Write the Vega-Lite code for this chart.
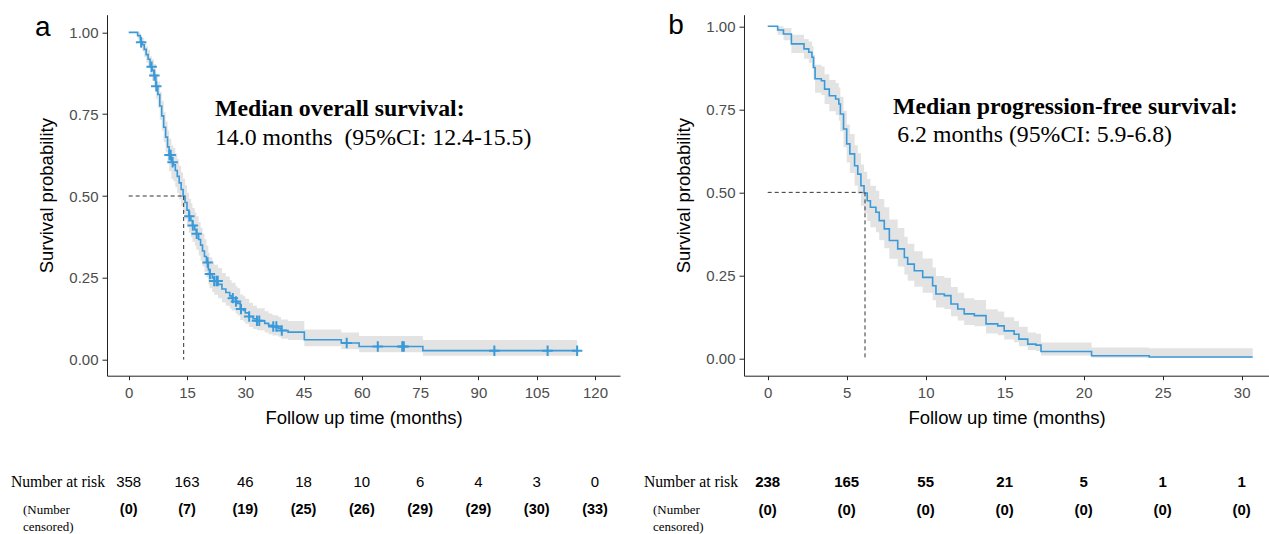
{
  "$schema": "https://vega.github.io/schema/vega-lite/v6.json",
  "padding": {"left": 10, "top": 10.7, "right": 0, "bottom": 0},
  "background": "white",
  "config": {
    "view": {"stroke": null},
    "font": "Liberation Sans",
    "axis": {"grid": false, "domainColor": "#222", "tickColor": "#222", "labelColor": "#4D4D4D", "titleColor": "#000", "labelFont": "Liberation Sans", "titleFont": "Liberation Sans", "labelFontSize": 15, "titleFontSize": 18.5, "titleFontWeight": "normal", "labelFlush": false, "labelOverlap": false},
    "axisX": {"tickSize": 4, "labelPadding": 6, "titlePadding": 8},
    "axisY": {"tickSize": 5, "labelPadding": 4, "titlePadding": 12}
  },
  "datasets": {
    "os": [
      {"t": 0, "s": 1, "lo": 1, "hi": 1},
      {"t": 2.3, "s": 0.99, "lo": 0.978, "hi": 1.0},
      {"t": 3.0, "s": 0.97, "lo": 0.952, "hi": 0.988},
      {"t": 3.5, "s": 0.962, "lo": 0.942, "hi": 0.982},
      {"t": 4.0, "s": 0.948, "lo": 0.925, "hi": 0.97},
      {"t": 4.5, "s": 0.932, "lo": 0.907, "hi": 0.957},
      {"t": 5.0, "s": 0.918, "lo": 0.89, "hi": 0.946},
      {"t": 5.5, "s": 0.895, "lo": 0.864, "hi": 0.926},
      {"t": 6.0, "s": 0.885, "lo": 0.852, "hi": 0.918},
      {"t": 6.5, "s": 0.868, "lo": 0.833, "hi": 0.903},
      {"t": 7.0, "s": 0.835, "lo": 0.797, "hi": 0.873},
      {"t": 7.5, "s": 0.81, "lo": 0.77, "hi": 0.85},
      {"t": 8.0, "s": 0.775, "lo": 0.733, "hi": 0.818},
      {"t": 8.5, "s": 0.745, "lo": 0.7, "hi": 0.79},
      {"t": 9.0, "s": 0.71, "lo": 0.664, "hi": 0.757},
      {"t": 9.5, "s": 0.68, "lo": 0.633, "hi": 0.728},
      {"t": 10.0, "s": 0.65, "lo": 0.602, "hi": 0.7},
      {"t": 10.4, "s": 0.625, "lo": 0.576, "hi": 0.675},
      {"t": 11.0, "s": 0.603, "lo": 0.553, "hi": 0.654},
      {"t": 11.5, "s": 0.595, "lo": 0.545, "hi": 0.647},
      {"t": 12.0, "s": 0.578, "lo": 0.527, "hi": 0.63},
      {"t": 12.5, "s": 0.56, "lo": 0.509, "hi": 0.612},
      {"t": 13.0, "s": 0.54, "lo": 0.489, "hi": 0.592},
      {"t": 13.5, "s": 0.52, "lo": 0.469, "hi": 0.572},
      {"t": 14.0, "s": 0.5, "lo": 0.449, "hi": 0.553},
      {"t": 14.5, "s": 0.48, "lo": 0.429, "hi": 0.533},
      {"t": 15.0, "s": 0.457, "lo": 0.406, "hi": 0.51},
      {"t": 15.5, "s": 0.438, "lo": 0.388, "hi": 0.491},
      {"t": 16.0, "s": 0.425, "lo": 0.375, "hi": 0.478},
      {"t": 16.4, "s": 0.41, "lo": 0.36, "hi": 0.463},
      {"t": 17.0, "s": 0.397, "lo": 0.348, "hi": 0.45},
      {"t": 17.4, "s": 0.385, "lo": 0.336, "hi": 0.438},
      {"t": 18.0, "s": 0.367, "lo": 0.318, "hi": 0.42},
      {"t": 18.5, "s": 0.35, "lo": 0.302, "hi": 0.403},
      {"t": 19.0, "s": 0.332, "lo": 0.285, "hi": 0.385},
      {"t": 19.5, "s": 0.315, "lo": 0.268, "hi": 0.368},
      {"t": 20.0, "s": 0.297, "lo": 0.251, "hi": 0.349},
      {"t": 20.5, "s": 0.275, "lo": 0.23, "hi": 0.327},
      {"t": 20.8, "s": 0.262, "lo": 0.218, "hi": 0.313},
      {"t": 21.5, "s": 0.25, "lo": 0.207, "hi": 0.3},
      {"t": 22.0, "s": 0.24, "lo": 0.198, "hi": 0.29},
      {"t": 23.0, "s": 0.23, "lo": 0.188, "hi": 0.28},
      {"t": 24.0, "s": 0.216, "lo": 0.175, "hi": 0.265},
      {"t": 25.0, "s": 0.205, "lo": 0.165, "hi": 0.254},
      {"t": 26.0, "s": 0.195, "lo": 0.156, "hi": 0.243},
      {"t": 26.5, "s": 0.188, "lo": 0.15, "hi": 0.235},
      {"t": 27.5, "s": 0.178, "lo": 0.141, "hi": 0.224},
      {"t": 28.0, "s": 0.172, "lo": 0.135, "hi": 0.218},
      {"t": 28.7, "s": 0.155, "lo": 0.121, "hi": 0.199},
      {"t": 29.5, "s": 0.15, "lo": 0.116, "hi": 0.194},
      {"t": 30.0, "s": 0.143, "lo": 0.11, "hi": 0.186},
      {"t": 31.0, "s": 0.132, "lo": 0.1, "hi": 0.174},
      {"t": 32.0, "s": 0.125, "lo": 0.094, "hi": 0.165},
      {"t": 33.0, "s": 0.119, "lo": 0.09, "hi": 0.157},
      {"t": 35.0, "s": 0.111, "lo": 0.083, "hi": 0.148},
      {"t": 36.0, "s": 0.105, "lo": 0.078, "hi": 0.141},
      {"t": 37.0, "s": 0.101, "lo": 0.074, "hi": 0.136},
      {"t": 38.5, "s": 0.096, "lo": 0.07, "hi": 0.13},
      {"t": 39.2, "s": 0.089, "lo": 0.064, "hi": 0.123},
      {"t": 41.0, "s": 0.084, "lo": 0.06, "hi": 0.118},
      {"t": 45.2, "s": 0.061, "lo": 0.041, "hi": 0.092},
      {"t": 54.7, "s": 0.051, "lo": 0.032, "hi": 0.083},
      {"t": 59.3, "s": 0.04, "lo": 0.023, "hi": 0.072},
      {"t": 75.7, "s": 0.0275, "lo": 0.012, "hi": 0.06},
      {"t": 115.4, "s": 0.0275, "lo": 0.012, "hi": 0.06}
    ],
    "osCensor": [
      {"t": 3.2, "s": 0.97}, {"t": 5.9, "s": 0.895}, {"t": 6.6, "s": 0.868}, {"t": 7.1, "s": 0.835},
      {"t": 10.5, "s": 0.625}, {"t": 10.8, "s": 0.625}, {"t": 11.3, "s": 0.603}, {"t": 15.6, "s": 0.438},
      {"t": 16.5, "s": 0.41}, {"t": 17.5, "s": 0.385}, {"t": 20.3, "s": 0.297}, {"t": 20.9, "s": 0.262},
      {"t": 22.0, "s": 0.24}, {"t": 22.6, "s": 0.24}, {"t": 22.9, "s": 0.24}, {"t": 26.8, "s": 0.188},
      {"t": 27.6, "s": 0.178}, {"t": 28.9, "s": 0.155}, {"t": 31.0, "s": 0.132}, {"t": 33.0, "s": 0.119},
      {"t": 33.6, "s": 0.119}, {"t": 37.2, "s": 0.101}, {"t": 38.0, "s": 0.101}, {"t": 39.4, "s": 0.089},
      {"t": 56.1, "s": 0.051}, {"t": 64.1, "s": 0.04}, {"t": 70.4, "s": 0.04}, {"t": 70.8, "s": 0.04},
      {"t": 94.1, "s": 0.0275}, {"t": 107.8, "s": 0.0275}, {"t": 115.4, "s": 0.0275}
    ],
    "pfs": [
      {"t": 0, "s": 1, "lo": 1, "hi": 1},
      {"t": 0.63, "s": 0.989, "lo": 0.975, "hi": 1},
      {"t": 1.0, "s": 0.977, "lo": 0.958, "hi": 0.995},
      {"t": 1.5, "s": 0.947, "lo": 0.92, "hi": 0.975},
      {"t": 2.3, "s": 0.932, "lo": 0.902, "hi": 0.962},
      {"t": 2.6, "s": 0.922, "lo": 0.89, "hi": 0.954},
      {"t": 2.8, "s": 0.907, "lo": 0.873, "hi": 0.941},
      {"t": 2.9, "s": 0.876, "lo": 0.838, "hi": 0.914},
      {"t": 3.0, "s": 0.842, "lo": 0.8, "hi": 0.884},
      {"t": 3.4, "s": 0.836, "lo": 0.793, "hi": 0.879},
      {"t": 3.6, "s": 0.811, "lo": 0.766, "hi": 0.856},
      {"t": 3.9, "s": 0.791, "lo": 0.744, "hi": 0.838},
      {"t": 4.3, "s": 0.781, "lo": 0.733, "hi": 0.829},
      {"t": 4.5, "s": 0.766, "lo": 0.716, "hi": 0.816},
      {"t": 4.6, "s": 0.736, "lo": 0.684, "hi": 0.788},
      {"t": 4.8, "s": 0.691, "lo": 0.636, "hi": 0.746},
      {"t": 5.0, "s": 0.646, "lo": 0.59, "hi": 0.704},
      {"t": 5.2, "s": 0.616, "lo": 0.558, "hi": 0.676},
      {"t": 5.5, "s": 0.58, "lo": 0.52, "hi": 0.642},
      {"t": 5.7, "s": 0.555, "lo": 0.495, "hi": 0.618},
      {"t": 5.9, "s": 0.52, "lo": 0.46, "hi": 0.584},
      {"t": 6.1, "s": 0.498, "lo": 0.437, "hi": 0.562},
      {"t": 6.3, "s": 0.475, "lo": 0.414, "hi": 0.54},
      {"t": 6.5, "s": 0.455, "lo": 0.395, "hi": 0.52},
      {"t": 6.85, "s": 0.44, "lo": 0.38, "hi": 0.505},
      {"t": 7.06, "s": 0.415, "lo": 0.356, "hi": 0.48},
      {"t": 7.38, "s": 0.39, "lo": 0.332, "hi": 0.455},
      {"t": 7.7, "s": 0.355, "lo": 0.3, "hi": 0.418},
      {"t": 8.23, "s": 0.33, "lo": 0.277, "hi": 0.393},
      {"t": 8.65, "s": 0.304, "lo": 0.253, "hi": 0.366},
      {"t": 8.86, "s": 0.284, "lo": 0.234, "hi": 0.345},
      {"t": 9.28, "s": 0.264, "lo": 0.216, "hi": 0.323},
      {"t": 9.81, "s": 0.244, "lo": 0.198, "hi": 0.301},
      {"t": 10.44, "s": 0.219, "lo": 0.175, "hi": 0.274},
      {"t": 10.65, "s": 0.194, "lo": 0.153, "hi": 0.248},
      {"t": 11.18, "s": 0.189, "lo": 0.149, "hi": 0.243},
      {"t": 11.6, "s": 0.164, "lo": 0.127, "hi": 0.215},
      {"t": 12.03, "s": 0.149, "lo": 0.114, "hi": 0.198},
      {"t": 12.44, "s": 0.134, "lo": 0.101, "hi": 0.181},
      {"t": 13.08, "s": 0.129, "lo": 0.097, "hi": 0.176},
      {"t": 13.82, "s": 0.104, "lo": 0.075, "hi": 0.148},
      {"t": 14.56, "s": 0.098, "lo": 0.07, "hi": 0.141},
      {"t": 14.97, "s": 0.083, "lo": 0.057, "hi": 0.124},
      {"t": 15.6, "s": 0.073, "lo": 0.049, "hi": 0.113},
      {"t": 15.9, "s": 0.058, "lo": 0.037, "hi": 0.095},
      {"t": 16.46, "s": 0.043, "lo": 0.025, "hi": 0.078},
      {"t": 16.98, "s": 0.04, "lo": 0.022, "hi": 0.074},
      {"t": 17.3, "s": 0.021, "lo": 0.009, "hi": 0.048},
      {"t": 20.5, "s": 0.008, "lo": 0.002, "hi": 0.033},
      {"t": 24.15, "s": 0.0045, "lo": 0.001, "hi": 0.031},
      {"t": 30.7, "s": 0.0045, "lo": 0.001, "hi": 0.031}
    ],
    "riskA": [
      {"t": 0, "row": "risk", "value": "358"}, {"t": 15, "row": "risk", "value": "163"}, {"t": 30, "row": "risk", "value": "46"},
      {"t": 45, "row": "risk", "value": "18"}, {"t": 60, "row": "risk", "value": "10"}, {"t": 75, "row": "risk", "value": "6"},
      {"t": 90, "row": "risk", "value": "4"}, {"t": 105, "row": "risk", "value": "3"}, {"t": 120, "row": "risk", "value": "0"},
      {"t": 0, "row": "cens", "value": "(0)"}, {"t": 15, "row": "cens", "value": "(7)"}, {"t": 30, "row": "cens", "value": "(19)"},
      {"t": 45, "row": "cens", "value": "(25)"}, {"t": 60, "row": "cens", "value": "(26)"}, {"t": 75, "row": "cens", "value": "(29)"},
      {"t": 90, "row": "cens", "value": "(29)"}, {"t": 105, "row": "cens", "value": "(30)"}, {"t": 120, "row": "cens", "value": "(33)"}
    ],
    "riskB": [
      {"t": 0, "row": "risk", "value": "238"}, {"t": 5, "row": "risk", "value": "165"}, {"t": 10, "row": "risk", "value": "55"},
      {"t": 15, "row": "risk", "value": "21"}, {"t": 20, "row": "risk", "value": "5"}, {"t": 25, "row": "risk", "value": "1"},
      {"t": 30, "row": "risk", "value": "1"},
      {"t": 0, "row": "cens", "value": "(0)"}, {"t": 5, "row": "cens", "value": "(0)"}, {"t": 10, "row": "cens", "value": "(0)"},
      {"t": 15, "row": "cens", "value": "(0)"}, {"t": 20, "row": "cens", "value": "(0)"}, {"t": 25, "row": "cens", "value": "(0)"},
      {"t": 30, "row": "cens", "value": "(0)"}
    ],
    "medA": [{"t0": 0, "median": 14.15, "p": 0.5, "p0": 0}],
    "medB": [{"t0": 0, "median": 6.16, "p": 0.5, "p0": 0}],
    "rowLabels": [
      {"row": "risk", "label": "Number at risk"},
      {"row": "cens", "label": "(Number\ncensored)"}
    ]
  },
  "columns": 2,
  "spacing": {"row": 92, "column": 124},
  "bounds": "flush",
  "resolve": {"scale": {"x": "independent", "y": "independent"}},
  "concat": [
    {
      "width": 513,
      "height": 361,
      "layer": [
        {
          "data": {"name": "os"},
          "mark": {"type": "area", "interpolate": "step-after", "color": "#E3E3E3"},
          "encoding": {
            "x": {"field": "t", "type": "quantitative", "scale": {"domain": [-5.58, 126.43], "nice": false, "zero": false},
                  "axis": {"values": [0, 15, 30, 45, 60, 75, 90, 105, 120], "title": "Follow up time (months)"}},
            "y": {"field": "hi", "type": "quantitative", "scale": {"domain": [-0.049, 1.054], "nice": false, "zero": false},
                  "axis": {"values": [0, 0.25, 0.5, 0.75, 1], "format": ".2f", "title": "Survival probability"}},
            "y2": {"field": "lo"}
          }
        },
        {
          "data": {"name": "os"},
          "mark": {"type": "line", "interpolate": "step-after", "color": "#3A9AD9", "strokeWidth": 1.6},
          "encoding": {
            "x": {"field": "t", "type": "quantitative"},
            "y": {"field": "s", "type": "quantitative"}
          }
        },
        {
          "data": {"name": "osCensor"},
          "mark": {"type": "point", "shape": "M-1,0H1M0,-1V1", "filled": false, "color": "#3A9AD9", "strokeWidth": 2, "size": 110, "opacity": 1},
          "encoding": {
            "x": {"field": "t", "type": "quantitative"},
            "y": {"field": "s", "type": "quantitative"}
          }
        },
        {
          "data": {"name": "medA"},
          "mark": {"type": "rule", "color": "#333", "strokeDash": [4, 3], "strokeWidth": 1},
          "encoding": {
            "x": {"field": "t0", "type": "quantitative"},
            "x2": {"field": "median"},
            "y": {"field": "p", "type": "quantitative"}
          }
        },
        {
          "data": {"name": "medA"},
          "mark": {"type": "rule", "color": "#333", "strokeDash": [4, 3], "strokeWidth": 1},
          "encoding": {
            "x": {"field": "median", "type": "quantitative"},
            "y": {"field": "p", "type": "quantitative"},
            "y2": {"field": "p0"}
          }
        },
        {
          "data": {"values": [{"label": "Median overall survival:"}]},
          "mark": {"type": "text", "font": "Liberation Serif", "fontSize": 23.8, "fontWeight": "bold", "align": "left", "baseline": "middle", "color": "#000"},
          "encoding": {
            "x": {"datum": 22.2, "type": "quantitative"},
            "y": {"datum": 0.767, "type": "quantitative"},
            "text": {"field": "label"}
          }
        },
        {
          "data": {"values": [{"label": "14.0 months\u00a0 (95%CI: 12.4-15.5)"}]},
          "mark": {"type": "text", "font": "Liberation Serif", "fontSize": 23.8, "align": "left", "baseline": "middle", "color": "#000"},
          "encoding": {
            "x": {"datum": 22.2, "type": "quantitative"},
            "y": {"datum": 0.677, "type": "quantitative"},
            "text": {"field": "label"}
          }
        },
        {
          "data": {"values": [{"label": "a"}]},
          "mark": {"type": "text", "font": "Liberation Sans", "fontSize": 28, "align": "center", "baseline": "alphabetic", "color": "#000"},
          "encoding": {
            "x": {"datum": -22.1, "type": "quantitative"},
            "y": {"datum": 0.99, "type": "quantitative"},
            "text": {"field": "label"}
          }
        }
      ]
    },
    {
      "width": 525,
      "height": 361,
      "layer": [
        {
          "data": {"name": "pfs"},
          "mark": {"type": "area", "interpolate": "step-after", "color": "#E3E3E3"},
          "encoding": {
            "x": {"field": "t", "type": "quantitative", "scale": {"domain": [-1.5, 31.73], "nice": false, "zero": false},
                  "axis": {"values": [0, 5, 10, 15, 20, 25, 30], "title": "Follow up time (months)"}},
            "y": {"field": "hi", "type": "quantitative", "scale": {"domain": [-0.052, 1.035], "nice": false, "zero": false},
                  "axis": {"values": [0, 0.25, 0.5, 0.75, 1], "format": ".2f", "title": "Survival probability"}},
            "y2": {"field": "lo"}
          }
        },
        {
          "data": {"name": "pfs"},
          "mark": {"type": "line", "interpolate": "step-after", "color": "#3A9AD9", "strokeWidth": 1.6},
          "encoding": {
            "x": {"field": "t", "type": "quantitative"},
            "y": {"field": "s", "type": "quantitative"}
          }
        },
        {
          "data": {"name": "medB"},
          "mark": {"type": "rule", "color": "#333", "strokeDash": [4, 3], "strokeWidth": 1},
          "encoding": {
            "x": {"field": "t0", "type": "quantitative"},
            "x2": {"field": "median"},
            "y": {"field": "p", "type": "quantitative"}
          }
        },
        {
          "data": {"name": "medB"},
          "mark": {"type": "rule", "color": "#333", "strokeDash": [4, 3], "strokeWidth": 1},
          "encoding": {
            "x": {"field": "median", "type": "quantitative"},
            "y": {"field": "p", "type": "quantitative"},
            "y2": {"field": "p0"}
          }
        },
        {
          "data": {"values": [{"label": "Median progression-free survival:"}]},
          "mark": {"type": "text", "font": "Liberation Serif", "fontSize": 23.8, "fontWeight": "bold", "align": "left", "baseline": "middle", "color": "#000"},
          "encoding": {
            "x": {"datum": 7.93, "type": "quantitative"},
            "y": {"datum": 0.758, "type": "quantitative"},
            "text": {"field": "label"}
          }
        },
        {
          "data": {"values": [{"label": "6.2 months (95%CI: 5.9-6.8)"}]},
          "mark": {"type": "text", "font": "Liberation Serif", "fontSize": 23.8, "align": "left", "baseline": "middle", "color": "#000"},
          "encoding": {
            "x": {"datum": 8.2, "type": "quantitative"},
            "y": {"datum": 0.674, "type": "quantitative"},
            "text": {"field": "label"}
          }
        },
        {
          "data": {"values": [{"label": "b"}]},
          "mark": {"type": "text", "font": "Liberation Sans", "fontSize": 28, "align": "center", "baseline": "alphabetic", "color": "#000"},
          "encoding": {
            "x": {"datum": -5.8, "type": "quantitative"},
            "y": {"datum": 0.978, "type": "quantitative"},
            "text": {"field": "label"}
          }
        }
      ]
    },
    {
      "width": 513,
      "height": 56,
      "layer": [
        {
          "data": {"name": "riskA"},
          "transform": [{"filter": "datum.row == 'risk'"}],
          "mark": {"type": "text", "font": "Liberation Sans", "fontSize": 15, "color": "#000", "baseline": "middle"},
          "encoding": {
            "x": {"field": "t", "type": "quantitative", "scale": {"domain": [-5.58, 126.43], "nice": false, "zero": false}, "axis": null},
            "y": {"field": "row", "type": "nominal", "scale": {"type": "point", "domain": ["risk", "cens"], "padding": 0.5}, "axis": null},
            "text": {"field": "value"}
          }
        },
        {
          "data": {"name": "riskA"},
          "transform": [{"filter": "datum.row == 'cens'"}],
          "mark": {"type": "text", "font": "Liberation Sans", "fontSize": 14.5, "fontWeight": "bold", "color": "#000", "baseline": "middle"},
          "encoding": {
            "x": {"field": "t", "type": "quantitative", "axis": null},
            "y": {"field": "row", "type": "nominal", "axis": null},
            "text": {"field": "value"}
          }
        },
        {
          "data": {"name": "rowLabels"},
          "transform": [{"filter": "datum.row == 'risk'"}],
          "mark": {"type": "text", "font": "Liberation Serif", "fontSize": 15.7, "color": "#000", "align": "right", "baseline": "middle"},
          "encoding": {
            "x": {"datum": -6.1, "type": "quantitative", "axis": null},
            "y": {"field": "row", "type": "nominal", "axis": null},
            "text": {"field": "label"}
          }
        },
        {
          "data": {"name": "rowLabels"},
          "transform": [{"filter": "datum.row == 'cens'"}],
          "mark": {"type": "text", "font": "Liberation Serif", "fontSize": 13, "color": "#000", "align": "left", "baseline": "middle", "lineBreak": "\n", "lineHeight": 17},
          "encoding": {
            "x": {"datum": -27.2, "type": "quantitative", "axis": null},
            "y": {"field": "row", "type": "nominal", "axis": null},
            "text": {"field": "label"}
          }
        }
      ]
    },
    {
      "width": 525,
      "height": 56,
      "layer": [
        {
          "data": {"name": "riskB"},
          "mark": {"type": "text", "font": "Liberation Sans", "fontSize": 15, "fontWeight": "bold", "color": "#000", "baseline": "middle"},
          "encoding": {
            "x": {"field": "t", "type": "quantitative", "scale": {"domain": [-1.5, 31.73], "nice": false, "zero": false}, "axis": null},
            "y": {"field": "row", "type": "nominal", "scale": {"type": "point", "domain": ["risk", "cens"], "padding": 0.5}, "axis": null},
            "text": {"field": "value"}
          }
        },
        {
          "data": {"name": "rowLabels"},
          "transform": [{"filter": "datum.row == 'risk'"}],
          "mark": {"type": "text", "font": "Liberation Serif", "fontSize": 15.7, "color": "#000", "align": "right", "baseline": "middle"},
          "encoding": {
            "x": {"datum": -1.88, "type": "quantitative", "axis": null},
            "y": {"field": "row", "type": "nominal", "axis": null},
            "text": {"field": "label"}
          }
        },
        {
          "data": {"name": "rowLabels"},
          "transform": [{"filter": "datum.row == 'cens'"}],
          "mark": {"type": "text", "font": "Liberation Serif", "fontSize": 13, "color": "#000", "align": "left", "baseline": "middle", "lineBreak": "\n", "lineHeight": 17},
          "encoding": {
            "x": {"datum": -7.26, "type": "quantitative", "axis": null},
            "y": {"field": "row", "type": "nominal", "axis": null},
            "text": {"field": "label"}
          }
        }
      ]
    }
  ]
}
